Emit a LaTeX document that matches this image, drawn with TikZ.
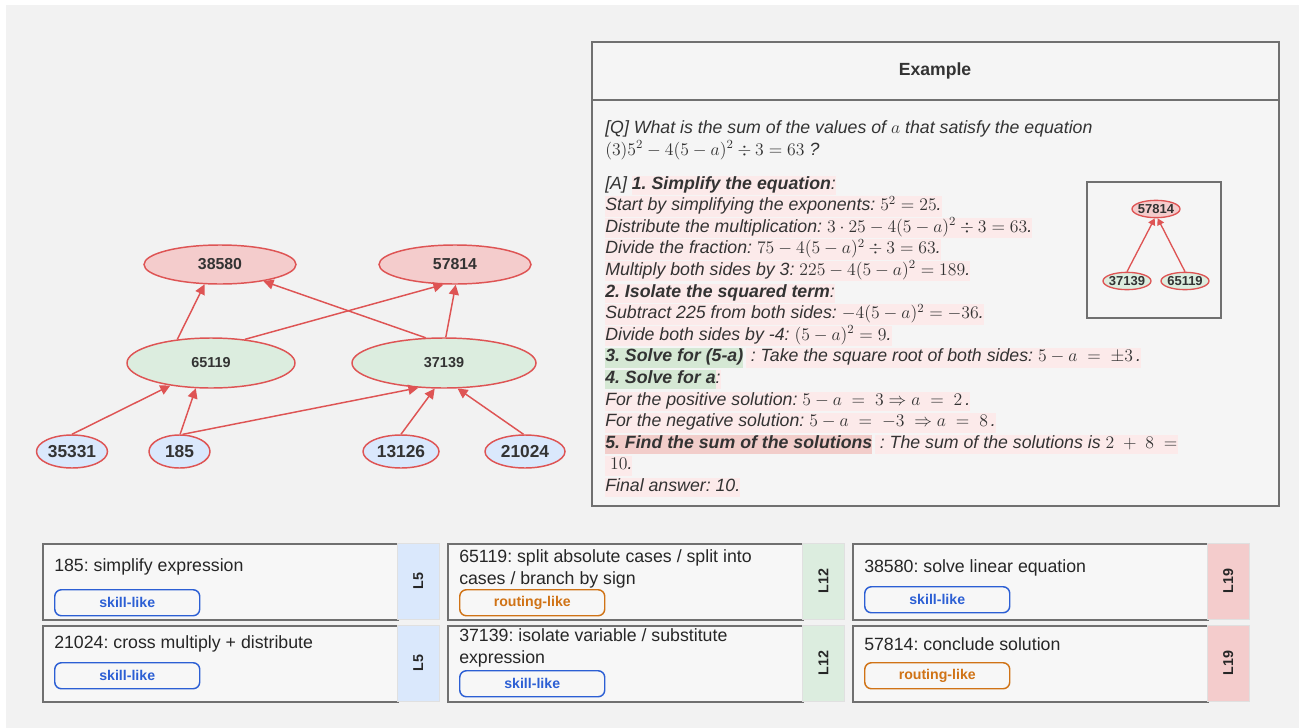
\RequirePackage{fix-cm}
\documentclass[tikz,border=0pt]{standalone}
\usepackage[no-math]{fontspec}
\setmainfont{Liberation Sans}
\usetikzlibrary{shapes.geometric,arrows.meta}
\frenchspacing
\definecolor{bgc}{HTML}{F2F2F2}
\definecolor{boxfill}{HTML}{F5F5F5}
\definecolor{cardfill}{HTML}{F7F7F7}
\definecolor{edgec}{HTML}{707070}
\definecolor{redline}{HTML}{DE5454}
\definecolor{pinkfill}{HTML}{F4CCCC}
\definecolor{greenfill}{HTML}{DCEDDF}
\definecolor{bluefill}{HTML}{DAE8FC}
\definecolor{hlpink}{HTML}{FCEAEA}
\definecolor{hlgreen}{HTML}{D5E8D4}
\definecolor{hlred}{HTML}{F2CDCA}
\definecolor{txt}{HTML}{333333}
\definecolor{skillc}{HTML}{2C5FD4}
\definecolor{routc}{HTML}{D07316}
\newcommand{\hlbox}[2]{{\setlength{\fboxsep}{0pt}\colorbox{#1}{\rule[-4.5pt]{0pt}{14.5pt}#2}}}
\newcommand{\hlp}[1]{\hlbox{hlpink}{#1}}
\newcommand{\hlg}[1]{\hlbox{hlgreen}{#1}}
\newcommand{\hlr}[1]{\hlbox{hlred}{#1}}
\tikzset{
  gnode/.style={ellipse, draw=redline, line width=1.1pt, inner sep=0pt, text=txt},
  topn/.style={gnode, fill=pinkfill, minimum width=114pt, minimum height=29.25pt, font=\fontsize{11.9}{14}\selectfont\bfseries},
  midn/.style={gnode, fill=greenfill, minimum height=37.5pt, font=\fontsize{10.8}{13}\selectfont\bfseries},
  botn/.style={gnode, fill=bluefill, minimum height=24.75pt, font=\fontsize{13}{15}\selectfont\bfseries},
  smalln/.style={ellipse, draw=redline, line width=1pt, inner sep=0pt, text=txt, minimum width=36pt, minimum height=13pt, font=\fontsize{9.75}{11}\selectfont\bfseries},
  garrow/.style={draw=redline, line width=1.1pt, -{Triangle[length=7.5pt,width=7.5pt]}},
  sarrow/.style={draw=redline, line width=1pt, -{Triangle[length=5pt,width=5.5pt]}},
  exline/.style={anchor=base west, inner sep=0pt, text=txt, font=\fontsize{13.3}{16}\selectfont\itshape},
  cardbox/.style={draw=edgec, line width=1.2pt, fill=cardfill, anchor=north west, minimum width=266.25pt, minimum height=57pt, inner sep=0pt},
  stripbox/.style={anchor=north west, minimum width=31.5pt, minimum height=57pt, inner sep=0pt, draw=black!12, line width=0.4pt},
  striptext/.style={rotate=90, font=\fontsize{10.7}{12}\selectfont\bfseries, text=black!85},
  cardtext/.style={anchor=west, inner sep=0pt, align=left, text=black!85, font=\fontsize{13.3}{16.5}\selectfont},
  pill/.style={draw, rounded corners=5pt, line width=1.1pt, anchor=north west, minimum width=108.75pt, minimum height=19.5pt, inner sep=0pt, fill=cardfill, font=\fontsize{10.6}{12}\selectfont\bfseries},
  skill/.style={pill, draw=skillc, text=skillc},
  rout/.style={pill, draw=routc, text=routc}
}
\begin{document}
\begin{tikzpicture}[x=0.75pt,y=-0.75pt]
\useasboundingbox (0,0) rectangle (1299,728);
\fill[white] (0,0) rectangle (1299,728);
\fill[bgc] (6,5) rectangle (1299,728);

% ---------- graph ----------
\node[topn] (n38580) at (220,264.5) {\makebox[0pt]{38580}};
\node[topn] (n57814) at (455,264.5) {\makebox[0pt]{57814}};
\node[midn, minimum width=126pt] (n65119) at (211,363) {\makebox[0pt]{65119}};
\node[midn, minimum width=138pt] (n37139) at (444,363) {\makebox[0pt]{37139}};
\node[botn, minimum width=53.25pt] (n35331) at (72,451.5) {\makebox[0pt]{35331}};
\node[botn, minimum width=45.75pt] (n185) at (179.5,451.5) {\makebox[0pt]{185}};
\node[botn, minimum width=57pt] (n13126) at (401,451.5) {\makebox[0pt]{13126}};
\node[botn, minimum width=60pt] (n21024) at (525,451.5) {\makebox[0pt]{21024}};

\draw[garrow] (n65119.145) -- (n38580.232);
\draw[garrow] (n65119.35) -- (n57814.240);
\draw[garrow] (n37139.126) -- (n38580.339);
\draw[garrow] (n37139.86) -- (n57814.272);
\draw[garrow] (n35331.90) -- (n65119.209);
\draw[garrow] (n185.88) -- (n65119.239);
\draw[garrow] (n185.80) -- (n37139.224);
\draw[garrow] (n13126.90) -- (n37139.250);
\draw[garrow] (n21024.95) -- (n37139.298);

% ---------- example box ----------
\draw[draw=edgec, line width=1.1pt, fill=boxfill] (592,42) rectangle (1279,506);
\draw[draw=edgec, line width=1.1pt] (592,100) -- (1279,100);
\node[text=txt, font=\fontsize{13.2}{15}\selectfont\bfseries] (extitle) at (935,71) {Example};

\node[exline] (l1) at (605,133) {[Q] What is the sum of the values of $a$ that satisfy the equation};
\node[exline] (l2) at (605,155) {$(3)5^2-4(5-a)^2\div3=63$ ?};
\node[exline] (l3) at (605,189) {[A] \hlp{{\bfseries 1. Simplify the equation}:}};
\node[exline] (l4) at (605,210.6) {\hlp{Start by simplifying the exponents: $5^2=25$.}};
\node[exline] (l5) at (605,232.2) {\hlp{Distribute the multiplication: $3\cdot25-4(5-a)^2\div3=63$.}};
\node[exline] (l6) at (605,253.8) {\hlp{Divide the fraction: $75-4(5-a)^2\div3=63$.}};
\node[exline] (l7) at (605,275.4) {\hlp{Multiply both sides by 3: $225-4(5-a)^2=189$.}};
\node[exline] (l8) at (605,297) {\hlp{{\bfseries 2. Isolate the squared term}:}};
\node[exline] (l9) at (605,318.6) {\hlp{Subtract 225 from both sides: $-4(5-a)^2=-36$.}};
\node[exline] (l10) at (605,340.2) {\hlp{Divide both sides by -4: $(5-a)^2=9$.}};
\node[exline] (l11) at (605,361.8) {\hlg{\bfseries 3. Solve for (5-a)}\kern2pt\hlp{ : Take the square root of both sides: $5-a\;=\;\pm3$\,.}};
\node[exline] (l12) at (605,383.4) {\hlg{\bfseries 4. Solve for a}\hlp{:}};
\node[exline] (l13) at (605,405) {\hlp{For the positive solution: $5-a\;=\;3\Rightarrow a\;=\;2$\,.}};
\node[exline] (l14) at (605,426.6) {\hlp{For the negative solution: $5-a\;=\;-3\;\Rightarrow a\;=\;8$\,.}};
\node[exline] (l15) at (605,448.2) {\hlr{\bfseries 5. Find the sum of the solutions}\kern2pt\hlp{ : The sum of the solutions is $2\;+\;8\;=$}};
\node[exline] (l16) at (605,469.8) {\hlp{\ $10$.}};
\node[exline] (l17) at (605,491.4) {\hlp{Final answer: 10.}};

% small inset
\draw[draw=edgec, line width=1.1pt] (1087,182) rectangle (1221,318);
\node[smalln, fill=pinkfill] (s57814) at (1156,209) {\makebox[0pt]{57814}};
\node[smalln, fill=greenfill] (s37139) at (1127,281) {\makebox[0pt]{37139}};
\node[smalln, fill=greenfill] (s65119) at (1185,281) {\makebox[0pt]{65119}};
\draw[sarrow] (s37139.90) -- (s57814.262);
\draw[sarrow] (s65119.90) -- (s57814.280);

% ---------- cards ----------
% column 1
\node[cardbox] (c1a) at (42,543) {};
\node[stripbox, fill=bluefill] (t1a) at (397,543) {};
\node[striptext] at (t1a.center) {L5};
\node[cardtext] (x1a) at (54,567) {185: simplify expression};
\node[skill] (p1a) at (54,589) {skill-like};

\node[cardbox] (c1b) at (42,625) {};
\node[stripbox, fill=bluefill] (t1b) at (397,625) {};
\node[striptext] at (t1b.center) {L5};
\node[cardtext] (x1b) at (54,644) {21024: cross multiply + distribute};
\node[skill] (p1b) at (54,662) {skill-like};

% column 2
\node[cardbox] (c2a) at (447,543) {};
\node[stripbox, fill=greenfill] (t2a) at (802,543) {};
\node[striptext] at (t2a.center) {L12};
\node[cardtext] (x2a) at (459,569) {65119: split absolute cases / split into\\cases / branch by sign};
\node[rout] (p2a) at (459,589) {routing-like};

\node[cardbox] (c2b) at (447,625) {};
\node[stripbox, fill=greenfill] (t2b) at (802,625) {};
\node[striptext] at (t2b.center) {L12};
\node[cardtext] (x2b) at (459,648) {37139: isolate variable / substitute\\expression};
\node[skill] (p2b) at (459,670) {skill-like};

% column 3
\node[cardbox] (c3a) at (852,543) {};
\node[stripbox, fill=pinkfill] (t3a) at (1207,543) {};
\node[striptext] at (t3a.center) {L19};
\node[cardtext] (x3a) at (864,568) {38580: solve linear equation};
\node[skill] (p3a) at (864,586) {skill-like};

\node[cardbox] (c3b) at (852,625) {};
\node[stripbox, fill=pinkfill] (t3b) at (1207,625) {};
\node[striptext] at (t3b.center) {L19};
\node[cardtext] (x3b) at (864,644) {57814: conclude solution};
\node[rout] (p3b) at (864,662) {routing-like};
\end{tikzpicture}
\end{document}
